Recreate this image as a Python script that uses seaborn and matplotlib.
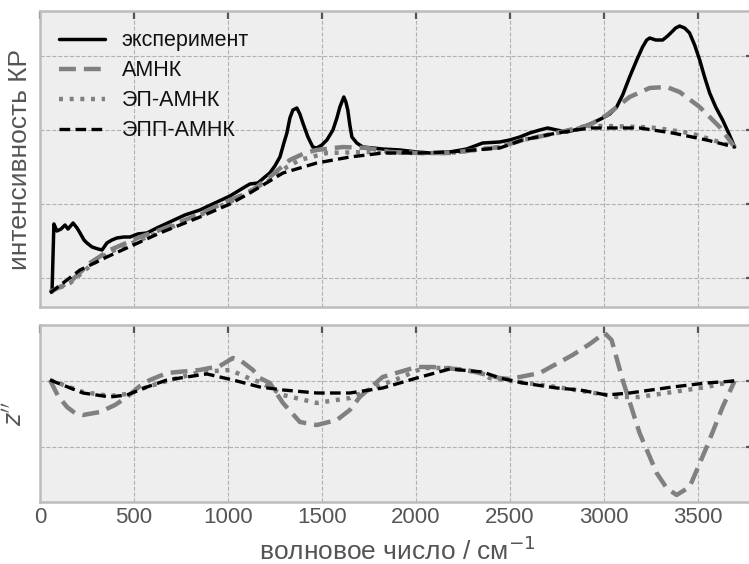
import numpy as np
import pandas as pd
import matplotlib
matplotlib.use("Agg")
import matplotlib.pyplot as plt
import seaborn as sns

# ---------------- data ----------------
# top panel: x in cm^-1, intensity in arbitrary units (grid at 1,2,3,4)
exp_x = [64, 74, 90, 112, 133, 149, 176, 197, 213, 234, 250, 277, 309, 330, 356, 383, 410, 447, 479, 521,
         569, 622, 691, 771, 851, 931, 1011, 1090, 1117, 1160, 1197, 1223, 1250, 1277, 1298, 1314, 1330, 1346,
         1367, 1383, 1399, 1426, 1452, 1473, 1500, 1527, 1559, 1580, 1596, 1617, 1628, 1638, 1649, 1660, 1686,
         1718, 1771, 1824, 1915, 2005, 2074, 2181, 2271, 2356, 2447, 2500, 2553, 2606, 2660, 2702, 2750, 2803,
         2846, 2888, 2941, 2995, 3032, 3069, 3101, 3138, 3176, 3207, 3229, 3245, 3277, 3314, 3340, 3362, 3383,
         3404, 3431, 3457, 3484, 3511, 3537, 3564, 3596, 3633, 3665, 3697]
exp_y = [0.811, 1.730, 1.635, 1.662, 1.716, 1.662, 1.743, 1.676, 1.608, 1.514, 1.473, 1.419, 1.392, 1.378,
         1.473, 1.514, 1.541, 1.554, 1.554, 1.595, 1.608, 1.676, 1.757, 1.851, 1.919, 2.014, 2.108, 2.230,
         2.270, 2.284, 2.365, 2.419, 2.514, 2.635, 2.824, 2.959, 3.162, 3.270, 3.297, 3.216, 3.095, 2.905,
         2.770, 2.757, 2.797, 2.865, 3.000, 3.162, 3.311, 3.446, 3.378, 3.270, 3.068, 2.905, 2.824, 2.770,
         2.757, 2.743, 2.730, 2.703, 2.689, 2.703, 2.743, 2.824, 2.838, 2.865, 2.905, 2.959, 3.000, 3.027,
         3.000, 2.973, 3.000, 3.041, 3.095, 3.162, 3.216, 3.311, 3.473, 3.716, 3.946, 4.122, 4.216, 4.243,
         4.216, 4.216, 4.270, 4.324, 4.378, 4.405, 4.378, 4.311, 4.149, 3.946, 3.716, 3.500, 3.311, 3.135,
         2.959, 2.770]

amnk_x = [53, 160, 266, 372, 532, 638, 851, 1011, 1117, 1223, 1330, 1410, 1473, 1612, 1739, 1862, 2005,
          2181, 2447, 2569, 2750, 2926, 3016, 3138, 3245, 3335, 3404, 3511, 3617, 3697]
amnk_y = [0.811, 0.946, 1.203, 1.378, 1.554, 1.649, 1.865, 2.054, 2.162, 2.365, 2.595, 2.689, 2.730,
          2.770, 2.757, 2.703, 2.689, 2.689, 2.770, 2.865, 2.959, 3.068, 3.203, 3.446, 3.568, 3.581, 3.514,
          3.311, 3.041, 2.770]

ep_x = [53, 160, 266, 372, 532, 638, 851, 1011, 1117, 1223, 1314, 1383, 1527, 1739, 2005, 2181, 2447,
        2569, 2750, 2926, 3016, 3191, 3282, 3457, 3564, 3697]
ep_y = [0.811, 0.932, 1.162, 1.351, 1.514, 1.622, 1.851, 2.027, 2.176, 2.324, 2.500, 2.595, 2.689, 2.703,
        2.689, 2.689, 2.770, 2.865, 2.959, 3.054, 3.054, 3.041, 3.027, 2.959, 2.878, 2.770]

epp_x = [53, 213, 356, 532, 638, 851, 1011, 1117, 1293, 1473, 1649, 1824, 2005, 2181, 2447, 2569, 2750,
         2926, 3016, 3191, 3367, 3548, 3697]
epp_y = [0.797, 1.108, 1.284, 1.486, 1.608, 1.824, 2.000, 2.149, 2.419, 2.554, 2.635, 2.689, 2.689,
         2.703, 2.757, 2.865, 2.959, 3.027, 3.027, 3.027, 2.959, 2.865, 2.770]

# bottom panel: second derivative z'' (grid at 0 and -1)
d_amnk_x = [53, 96, 144, 186, 229, 319, 399, 463, 532, 585, 676, 851, 957, 1027, 1064, 1133, 1170, 1223,
            1293, 1383, 1473, 1580, 1649, 1702, 1824, 2005, 2090, 2271, 2447, 2500, 2660, 2835, 2926, 3005,
            3042, 3101, 3191, 3282, 3335, 3388, 3457, 3548, 3633, 3697]
d_amnk_y = [0.015, -0.227, -0.394, -0.485, -0.515, -0.470, -0.364, -0.242, -0.076, 0.015, 0.121, 0.167,
            0.227, 0.348, 0.318, 0.167, 0.045, -0.030, -0.333, -0.621, -0.667, -0.591, -0.439, -0.242, 0.061,
            0.212, 0.212, 0.167, 0.045, 0.030, 0.121, 0.394, 0.561, 0.727, 0.621, 0.015, -0.788, -1.394,
            -1.621, -1.727, -1.606, -1.000, -0.394, 0.0]

d_ep_x = [53, 229, 372, 463, 569, 676, 851, 1011, 1133, 1170, 1293, 1473, 1649, 1772, 1915, 2037, 2181,
          2356, 2393, 2750, 3016, 3069, 3191, 3367, 3548, 3697]
d_ep_y = [0.015, -0.167, -0.227, -0.197, -0.091, 0.0, 0.136, 0.167, 0.015, -0.015, -0.212, -0.333,
          -0.258, -0.106, 0.045, 0.197, 0.197, 0.121, 0.045, -0.091, -0.212, -0.242, -0.242, -0.167,
          -0.091, 0.0]

d_epp_x = [53, 229, 372, 463, 569, 676, 851, 888, 1027, 1170, 1293, 1473, 1649, 1824, 2005, 2181, 2356,
           2447, 2569, 2750, 2872, 3016, 3138, 3367, 3548, 3697]
d_epp_y = [0.015, -0.182, -0.242, -0.212, -0.091, 0.015, 0.091, 0.106, 0.015, -0.091, -0.136, -0.182,
           -0.182, -0.106, 0.045, 0.182, 0.136, 0.045, -0.030, -0.106, -0.136, -0.212, -0.182, -0.091,
           -0.030, 0.0]

labels = ["эксперимент", "АМНК", "ЭП-АМНК", "ЭПП-АМНК"]
x_ticks = [0, 500, 1000, 1500, 2000, 2500, 3000, 3500]

# ---------------- style ----------------
sns.set_theme(style="darkgrid", rc={
    "axes.facecolor": "#eeeeee",
    "axes.edgecolor": "#bcbcbc",
    "axes.linewidth": 1.8,
    "grid.color": "#b2b2b2",
    "grid.linestyle": "--",
    "grid.linewidth": 0.8,
    "figure.facecolor": "white",
})
plt.rcParams["font.family"] = ["Liberation Sans", "DejaVu Sans"]
plt.rcParams["mathtext.fontset"] = "dejavusans"

fig = plt.figure(figsize=(7.49, 5.64), dpi=100)
W, H = 749.0, 564.0
left = 40 / W
width = 714 / W
ax1 = fig.add_axes([left, (H - 307) / H, width, 296 / H])
ax2 = fig.add_axes([left, (H - 502) / H, width, 177 / H])

GREY = "#808080"
styles = [
    dict(color="black", linewidth=2.5, linestyle="-"),
    dict(color=GREY, linewidth=3.2, linestyle=(0, (3.8, 1.8))),
    dict(color=GREY, linewidth=3.2, linestyle=(0, (0.9, 1.5))),
    dict(color="black", linewidth=2.4, linestyle=(0, (3.2, 1.6))),
]

top_series = [(exp_x, exp_y), (amnk_x, amnk_y), (ep_x, ep_y), (epp_x, epp_y)]
for (xs, ys), lab, st in zip(top_series, labels, styles):
    sns.lineplot(x=xs, y=ys, ax=ax1, label=lab, estimator=None, sort=False, **st)

bot_series = [(d_amnk_x, d_amnk_y), (d_ep_x, d_ep_y), (d_epp_x, d_epp_y)]
for (xs, ys), st in zip(bot_series, styles[1:]):
    sns.lineplot(x=xs, y=ys, ax=ax2, estimator=None, sort=False, **st)

for ax in (ax1, ax2):
    ax.set_xlim(0, 3800)
    ax.set_xticks(x_ticks)
    ax.grid(True, color="#b2b2b2", linestyle="--", linewidth=0.8)
    ax.tick_params(axis="both", direction="in", length=6, width=1.6, color="#555555",
                   top=True, right=True, labelleft=False, labelsize=16, labelcolor="#555555")
    for s in ax.spines.values():
        s.set_color("#bcbcbc")
        s.set_linewidth(1.8)

ax1.set_ylim(0.608, 4.608)
ax1.set_yticks([1, 2, 3, 4])
ax1.tick_params(labelbottom=False)
ax1.set_xlabel("")
ax1.set_ylabel("интенсивность КР", fontsize=19, color="#555555", labelpad=6)

ax2.set_ylim(-1.833, 0.848)
ax2.set_yticks([-1, 0])
ax2.set_ylabel("$z''$", fontsize=17, color="#555555", labelpad=10)
ax2.set_xlabel("волновое число / см$^{-1}$", fontsize=19, color="#555555", labelpad=6)

leg = ax1.legend(loc="upper left", frameon=False, fontsize=15.5, handlelength=2.1,
                 borderaxespad=0.5, labelspacing=0.42, handletextpad=0.8)
for t in leg.get_texts():
    t.set_color("#111111")

fig.savefig("out.png", dpi=100)
